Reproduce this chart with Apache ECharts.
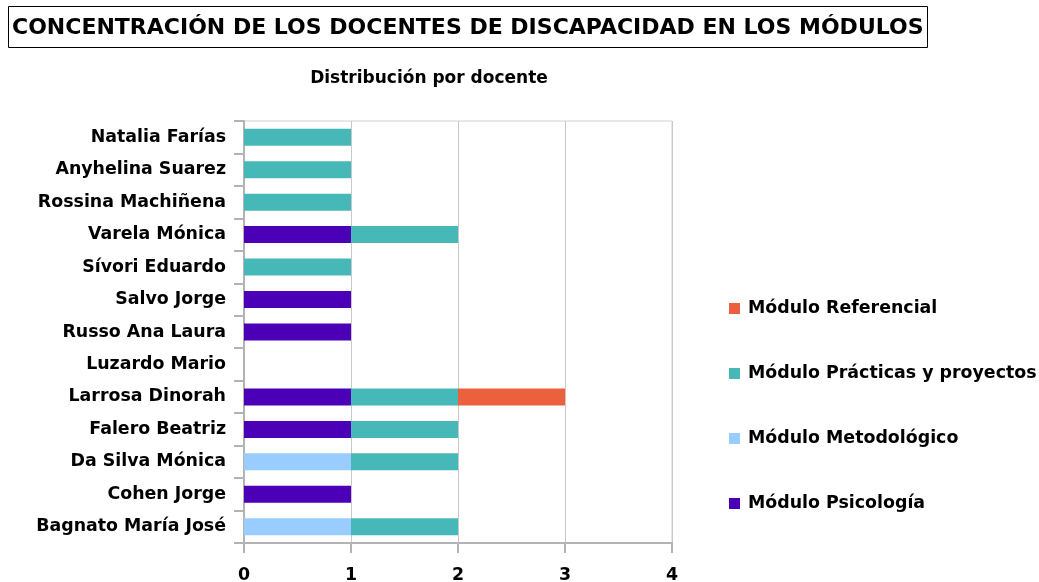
<!DOCTYPE html>
<html lang="es">
<head>
	<meta charset="UTF-8">
	<title>Concentración de los docentes</title>
	<script src="https://cdn.jsdelivr.net/npm/echarts@6/dist/echarts.min.js"></script>
	<style>
		html, body { margin: 0; padding: 0; background: #fff; }
		#chart { width: 1039px; height: 582px; }
	</style>
</head>
<body>
<div id="chart"></div>
<script>
	// docentes, de abajo hacia arriba
	var docentes = ['Bagnato María José', 'Cohen Jorge', 'Da Silva Mónica', 'Falero Beatriz', 'Larrosa Dinorah',
		'Luzardo Mario', 'Russo Ana Laura', 'Salvo Jorge', 'Sívori Eduardo', 'Varela Mónica',
		'Rossina Machiñena', 'Anyhelina Suarez', 'Natalia Farías'];
	var psicologia   = [0, 1, 0, 1, 1, 0, 1, 1, 0, 1, 0, 0, 0];
	var metodologico = [1, 0, 1, 0, 0, 0, 0, 0, 0, 0, 0, 0, 0];
	var practicas    = [1, 0, 1, 1, 1, 0, 0, 0, 1, 1, 1, 1, 1];
	var referencial  = [0, 0, 0, 0, 1, 0, 0, 0, 0, 0, 0, 0, 0];
	var xTicks = [0, 1, 2, 3, 4];

	var font = 'DejaVu Sans';
	var chart = echarts.init(document.getElementById('chart'));

	function serie(nombre, datos, color) {
		return {
			name: nombre,
			type: 'bar',
			stack: 'total',
			barWidth: 17,
			itemStyle: { color: color },
			data: datos
		};
	}

	chart.setOption({
		animation: false,
		textStyle: { fontFamily: font },
		title: [{
			text: 'CONCENTRACIÓN DE LOS DOCENTES DE DISCAPACIDAD EN LOS MÓDULOS',
			left: 8,
			top: 6,
			padding: [11, 4, 9, 4],
			borderColor: '#000',
			borderWidth: 1,
			textStyle: { fontFamily: font, fontSize: 22, fontWeight: 'bold', color: '#000' }
		}, {
			text: 'Distribución por docente',
			left: 424,
			textAlign: 'center',
			top: 65,
			textStyle: { fontFamily: font, fontSize: 17, fontWeight: 'bold', color: '#000' }
		}],
		legend: {
			orient: 'vertical',
			left: 729,
			top: 300,
			padding: 0,
			itemWidth: 11,
			itemHeight: 11,
			itemGap: 48,
			icon: 'rect',
			data: ['Módulo Referencial', 'Módulo Prácticas y proyectos', 'Módulo Metodológico', 'Módulo Psicología'],
			textStyle: { fontFamily: font, fontSize: 17.4, fontWeight: 'bold', color: '#000', padding: [0, 0, 0, 3] }
		},
		grid: {
			left: 244,
			right: 367,
			top: 121,
			bottom: 39,
			outerBoundsMode: 'none',
			show: true,
			borderColor: '#d0d0d0',
			borderWidth: 1
		},
		xAxis: {
			type: 'value',
			min: xTicks[0],
			max: xTicks[xTicks.length - 1],
			interval: 1,
			axisLine: { show: true, lineStyle: { color: '#b3b3b3', width: 2 } },
			axisTick: { show: true, length: 10, lineStyle: { color: '#b3b3b3', width: 2 } },
			splitLine: { show: true, lineStyle: { color: '#c8c8c8', width: 1 } },
			axisLabel: { margin: 24, fontFamily: font, fontSize: 17.4, fontWeight: 'bold', color: '#000' }
		},
		yAxis: {
			type: 'category',
			data: docentes,
			axisLine: { show: true, lineStyle: { color: '#b3b3b3', width: 2 } },
			axisTick: { show: true, length: 10, lineStyle: { color: '#b3b3b3', width: 2 } },
			axisLabel: { margin: 18, fontFamily: font, fontSize: 17.4, fontWeight: 'bold', color: '#000' }
		},
		series: [
			serie('Módulo Psicología', psicologia, '#4b00b8'),
			serie('Módulo Metodológico', metodologico, '#99ccff'),
			serie('Módulo Prácticas y proyectos', practicas, '#47b8b8'),
			serie('Módulo Referencial', referencial, '#eb613d')
		]
	});
</script>
</body>
</html>
